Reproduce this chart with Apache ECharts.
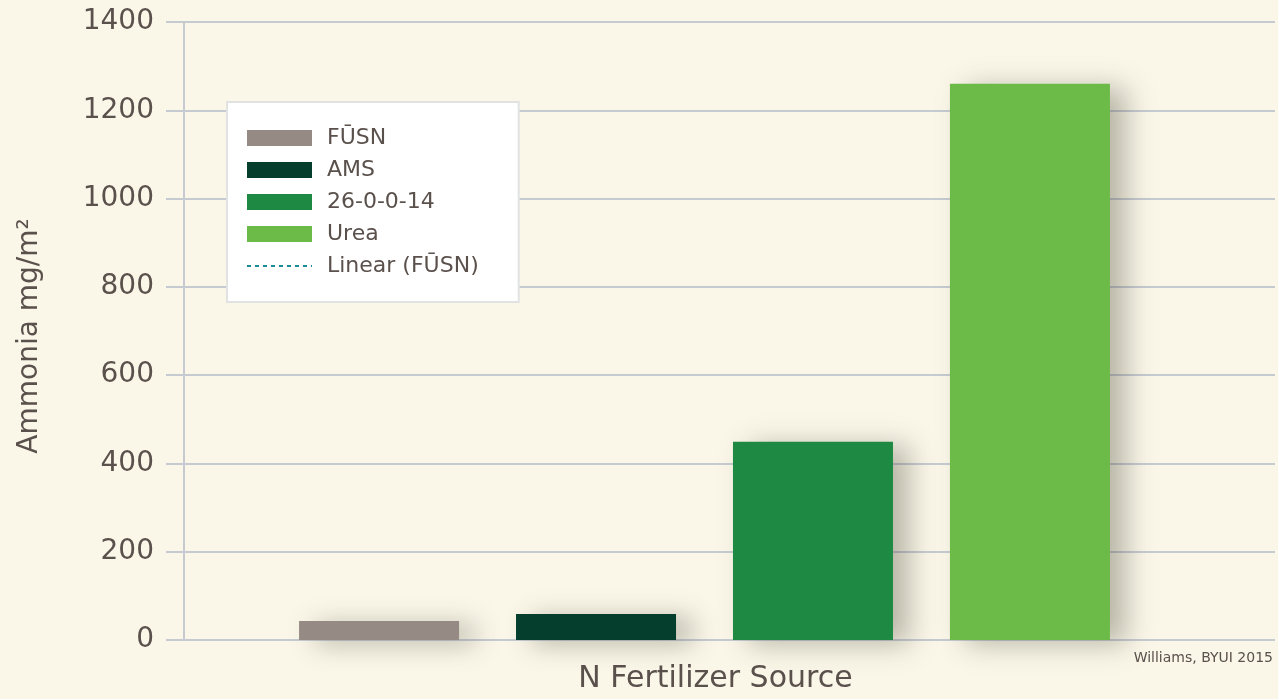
<!DOCTYPE html>
<html><head><meta charset="utf-8">
<script src="https://cdn.jsdelivr.net/npm/echarts@6/dist/echarts.min.js"></script>
<style>html,body{margin:0;padding:0;background:#faf7e9;}#c{width:1278px;height:699px;}</style>
</head><body><div id="c"></div>
<script>
const categories = ['N Fertilizer Source'];
const seriesNames = ['FŪSN', 'AMS', '26-0-0-14', 'Urea'];
const seriesValues = [43, 59, 449, 1260];
const seriesColors = ['#958b84', '#053e2d', '#1d8943', '#6cbb48'];
const trendName = 'Linear (FŪSN)';
const yTicks = { min: 0, max: 1400, interval: 200 };

const textColor = '#5a504c';
const gridColor = '#c6cbd1';
const font = 'DejaVu Sans';

const chart = echarts.init(document.getElementById('c'));
const barSeries = seriesNames.map((n, i) => ({
  name: n, type: 'bar', xAxisIndex: 1, yAxisIndex: 1,
  data: [seriesValues[i]], barWidth: 160, barGap: '35.6%',
  itemStyle: { color: seriesColors[i], shadowBlur: 26, shadowOffsetX: 16, shadowOffsetY: 4, shadowColor: 'rgba(60,55,40,0.34)' }
}));
chart.setOption({
  backgroundColor: '#faf7e9',
  animation: false,
  grid: [
    { left: 184, right: 3, top: 22, bottom: 59, outerBoundsMode: 'none', containLabel: false },
    { left: 184, right: 53, top: 22, bottom: 59, outerBoundsMode: 'none', containLabel: false }
  ],
  xAxis: [
    { type: 'category', gridIndex: 0, data: categories, axisLabel: { show: false }, axisTick: { show: false },
      axisLine: { show: false },
      name: 'N Fertilizer Source', nameLocation: 'middle', nameGap: 24,
      nameTextStyle: { fontFamily: font, fontSize: 30, color: textColor, padding: [0, 28, 0, 0] } },
    { type: 'category', gridIndex: 1, data: categories, show: false }
  ],
  yAxis: [
    { type: 'value', gridIndex: 0, min: yTicks.min, max: yTicks.max, interval: yTicks.interval,
      axisLine: { show: true, lineStyle: { color: gridColor, width: 2 } },
      axisTick: { show: true, length: 18, lineStyle: { color: gridColor, width: 2 } },
      splitLine: { show: true, lineStyle: { color: gridColor, width: 2 } },
      axisLabel: { fontFamily: font, fontSize: 28, color: textColor, margin: 30, formatter: v => String(v) },
      name: 'Ammonia mg/m²', nameLocation: 'middle', nameGap: 140, nameRotate: 90,
      nameTextStyle: { fontFamily: font, fontSize: 28, color: textColor, padding: [0, 10, 0, 0] } },
    { type: 'value', gridIndex: 1, min: yTicks.min, max: yTicks.max, interval: yTicks.interval, show: false }
  ],
  legend: {
    left: 227, top: 102, orient: 'vertical',
    backgroundColor: '#ffffff', borderColor: '#e1e3e3', borderWidth: 2,
    padding: [25, 40, 25, 19], itemGap: 10, itemWidth: 65, itemHeight: 16,
    textStyle: { fontFamily: font, fontSize: 22, color: textColor, padding: [0, 0, 0, 10] },
    data: seriesNames.map(n => ({ name: n, icon: 'rect' })).concat([{ name: trendName, itemStyle: { opacity: 0 } }])
  },
  series: barSeries.concat([{
    name: trendName, type: 'line', xAxisIndex: 1, yAxisIndex: 1, data: [], symbol: 'none',
    color: '#1b8a99', lineStyle: { type: [4, 4], width: 2, color: '#1b8a99' }
  }]),
  graphic: [{ type: 'text', right: 5, top: 651, style: { text: 'Williams, BYUI 2015', font: '14px "DejaVu Sans"', fill: textColor } }]
});
</script></body></html>
